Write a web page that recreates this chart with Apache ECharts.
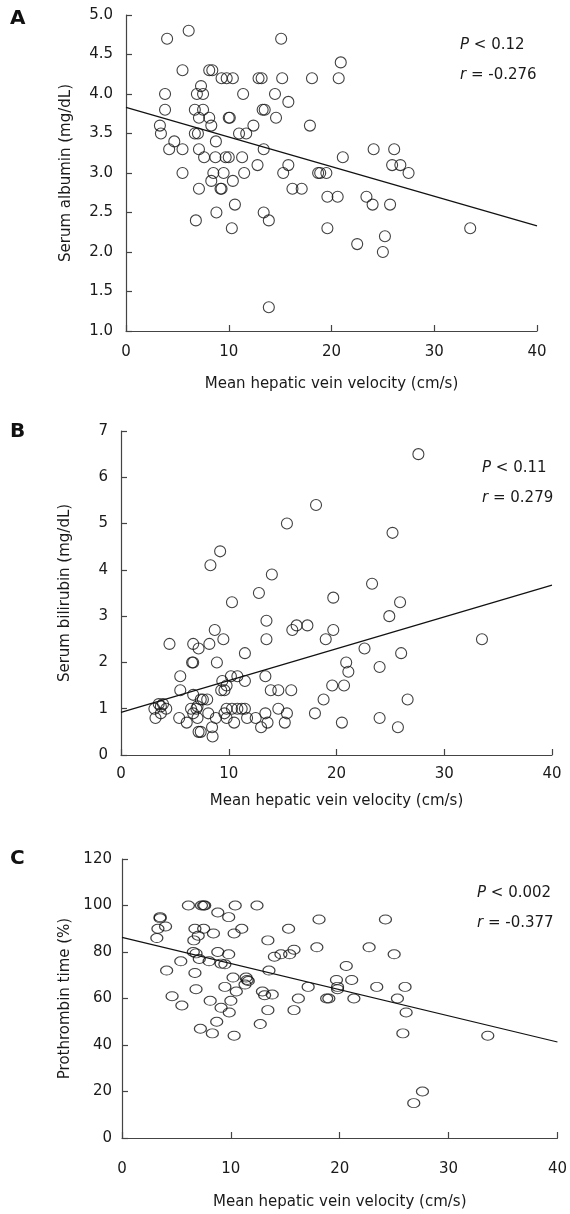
<!DOCTYPE html>
<html><head><meta charset="utf-8">
<script src="https://cdn.jsdelivr.net/npm/echarts@6/dist/echarts.min.js"></script>
<style>html,body{margin:0;padding:0;background:#fff}#c{width:570px;height:1214px}</style>
</head><body><div id="c"></div>
<script>
// Panel A: serum albumin vs mean hepatic vein velocity
const albuminPoints = [[4.0,4.7],[6.1,4.8],[5.5,4.3],[8.1,4.3],[8.4,4.3],[9.3,4.2],[9.8,4.2],[10.4,4.2],[12.9,4.2],[13.2,4.2],[15.2,4.2],[18.1,4.2],[15.1,4.7],[20.9,4.4],[20.7,4.2],[3.8,4.0],[7.3,4.1],[6.9,4.0],[7.5,4.0],[11.4,4.0],[14.5,4.0],[15.8,3.9],[3.8,3.8],[6.7,3.8],[7.5,3.8],[10.0,3.7],[10.1,3.7],[13.3,3.8],[13.5,3.8],[7.1,3.7],[8.1,3.7],[14.6,3.7],[8.3,3.6],[3.3,3.6],[3.4,3.5],[6.7,3.5],[7.0,3.5],[11.0,3.5],[11.7,3.5],[12.4,3.6],[17.9,3.6],[4.7,3.4],[8.75,3.4],[4.2,3.3],[5.5,3.3],[7.1,3.3],[13.4,3.3],[7.6,3.2],[8.7,3.2],[9.7,3.2],[10.0,3.2],[11.3,3.2],[5.5,3.0],[8.5,3.0],[9.5,3.0],[11.5,3.0],[12.8,3.1],[15.8,3.1],[15.3,3.0],[18.7,3.0],[18.9,3.0],[19.5,3.0],[7.1,2.8],[8.3,2.9],[9.2,2.8],[9.3,2.8],[10.4,2.9],[16.2,2.8],[17.1,2.8],[19.6,2.7],[10.6,2.6],[8.8,2.5],[6.8,2.4],[13.4,2.5],[13.9,2.4],[10.3,2.3],[19.6,2.3],[13.9,1.3],[21.1,3.2],[24.1,3.3],[26.1,3.3],[25.9,3.1],[26.7,3.1],[27.5,3.0],[20.6,2.7],[23.4,2.7],[24.0,2.6],[25.7,2.6],[33.5,2.3],[22.5,2.1],[25.2,2.2],[25.0,2.0]];
const albuminTrend = [[0,3.83],[40,2.33]];
// Panel B: serum bilirubin
const bilirubinPoints = [[9.2,4.4],[8.3,4.1],[14.0,3.9],[12.8,3.5],[10.3,3.3],[13.5,2.9],[13.5,2.5],[15.9,2.7],[16.3,2.8],[17.3,2.8],[8.7,2.7],[9.5,2.5],[4.5,2.4],[6.7,2.4],[8.2,2.4],[7.2,2.3],[11.5,2.2],[6.6,2.0],[6.7,2.0],[8.9,2.0],[5.5,1.7],[10.2,1.7],[10.8,1.7],[13.4,1.7],[9.4,1.6],[11.5,1.6],[9.8,1.5],[9.3,1.4],[9.6,1.4],[5.5,1.4],[13.9,1.4],[14.6,1.4],[15.8,1.4],[6.7,1.3],[7.4,1.2],[7.6,1.2],[8.0,1.2],[3.5,1.1],[3.9,1.1],[3.7,1.05],[3.1,1.0],[4.2,1.0],[3.2,0.8],[3.7,0.9],[6.5,1.0],[7.0,1.0],[6.7,0.9],[7.1,1.05],[5.4,0.8],[6.1,0.7],[7.1,0.8],[8.1,0.9],[8.8,0.8],[9.6,0.9],[9.8,1.0],[10.3,1.0],[10.8,1.0],[11.2,1.0],[11.5,1.0],[9.8,0.8],[10.5,0.7],[11.7,0.8],[12.5,0.8],[13.0,0.6],[13.4,0.9],[13.6,0.7],[14.6,1.0],[15.4,0.9],[15.2,0.7],[7.2,0.5],[7.4,0.5],[8.5,0.4],[8.45,0.6],[18.0,0.9],[18.8,1.2],[27.6,6.5],[18.1,5.4],[15.4,5.0],[25.2,4.8],[23.3,3.7],[19.7,3.4],[25.9,3.3],[24.9,3.0],[19.7,2.7],[19.0,2.5],[33.5,2.5],[22.6,2.3],[26.0,2.2],[20.9,2.0],[21.1,1.8],[24.0,1.9],[19.6,1.5],[20.7,1.5],[20.5,0.7],[24.0,0.8],[25.7,0.6],[26.6,1.2]];
const bilirubinTrend = [[0,0.92],[40,3.67]];
// Panel C: prothrombin time
const prothrombinPoints = [[6.1,100],[7.3,100],[7.5,100],[7.6,100],[10.4,100],[12.4,100],[8.8,97],[9.8,95],[3.5,95],[3.5,94.5],[3.3,90],[4.0,91],[3.2,86],[6.7,90],[7.5,90],[11.0,90],[15.3,90],[18.1,94],[8.4,88],[10.3,88],[7.0,87],[6.6,85],[13.4,85],[17.9,82],[6.55,80],[6.8,79.4],[8.8,80],[9.8,79],[15.8,81],[15.4,79],[14.6,79],[14.0,78],[7.1,77],[5.4,76],[8.0,76],[9.1,75],[9.45,74.7],[4.1,72],[13.5,72],[6.7,71],[10.2,69],[11.4,69],[11.5,68],[11.6,67.5],[11.3,66],[17.1,65],[9.45,65],[6.8,64],[10.5,63],[12.9,63],[13.1,61.4],[13.8,61.7],[4.6,61],[16.2,60],[18.8,60],[5.5,57],[8.1,59],[9.1,56],[10.0,59],[9.85,54],[8.7,50],[7.2,47],[8.3,45],[10.3,44],[12.7,49],[13.4,55],[15.8,55],[24.2,94],[22.7,82],[25.0,79],[20.6,74],[19.7,68],[21.1,68],[19.8,65],[19.8,64],[23.4,65],[26.0,65],[19.0,60],[21.3,60],[25.3,60],[26.1,54],[25.8,45],[33.6,44],[27.6,20],[26.8,15]];
const prothrombinTrend = [[0,86.3],[40,41.3]];

const xTitle = 'Mean hepatic vein velocity (cm/s)';
const yTitles = ['Serum albumin (mg/dL)', 'Serum bilirubin (mg/dL)', 'Prothrombin time (%)'];
const panelLetters = ['A', 'B', 'C'];
const statsP = ['0.12', '0.11', '0.002'];
const statsR = ['-0.276', '0.279', '-0.377'];
const yRanges = [[1, 5, 0.5], [0, 7, 1], [0, 120, 20]];
const xRange = [0, 40, 10];

const FONT = 'DejaVu Sans';
const TXT = '#1a1a1a';
const AX = '#444';

const grids = [
  {left: 126, right: 33, top: 15, height: 316},
  {left: 121, right: 18, top: 431, height: 324},
  {left: 122, right: 12, top: 859, height: 279}
];
const xLabelMargin = [14, 12, 24];
const xNameGap = [46, 39, 57];
const yNameGap = [52, 48, 48];
const statPos = [[460, 47], [482, 470], [477, 895]];
const letterPos = [[10, 20], [10, 433], [10, 860]];

const chart = echarts.init(document.getElementById('c'), null, {renderer: 'canvas'});

const xAxes = grids.map((g, i) => ({
  gridIndex: i, type: 'value', min: xRange[0], max: xRange[1], interval: xRange[2],
  name: xTitle, nameLocation: 'middle', nameGap: xNameGap[i],
  nameTextStyle: {fontFamily: FONT, fontSize: 15, color: TXT},
  axisLine: {show: true, onZero: false, lineStyle: {color: AX, width: 1.2}},
  axisTick: {show: true, inside: true, length: 6, lineStyle: {color: AX, width: 1.2}},
  axisLabel: {fontFamily: FONT, fontSize: 15, color: TXT, margin: xLabelMargin[i]},
  splitLine: {show: false}
}));
const yAxes = grids.map((g, i) => ({
  gridIndex: i, type: 'value', min: yRanges[i][0], max: yRanges[i][1], interval: yRanges[i][2],
  name: yTitles[i], nameLocation: 'middle', nameGap: yNameGap[i], nameRotate: 90,
  nameTextStyle: {fontFamily: FONT, fontSize: 15, color: TXT},
  axisLine: {show: true, onZero: false, lineStyle: {color: AX, width: 1.2}},
  axisTick: {show: true, inside: true, length: 6, lineStyle: {color: AX, width: 1.2}},
  axisLabel: {fontFamily: FONT, fontSize: 15, color: TXT, margin: i === 2 ? 10 : 13,
    formatter: i === 0 ? (v => v.toFixed(1)) : (v => String(v))},
  splitLine: {show: false}
}));

const pointSets = [albuminPoints, bilirubinPoints, prothrombinPoints];
const trendSets = [albuminTrend, bilirubinTrend, prothrombinTrend];
const symbols = ['circle', 'circle', 'path://M0,4.5a6,4.5 0 1,0 12,0a6,4.5 0 1,0 -12,0z'];
const symbolSizes = [11, 11, [12, 9]];

const series = [];
pointSets.forEach((pts, i) => {
  series.push({
    type: 'line', xAxisIndex: i, yAxisIndex: i, data: trendSets[i],
    showSymbol: false, symbol: 'none', lineStyle: {color: '#111', width: 1.2}, z: 1, silent: true
  });
  series.push({
    type: 'scatter', xAxisIndex: i, yAxisIndex: i, data: pts,
    symbol: symbols[i], symbolSize: symbolSizes[i],
    itemStyle: {color: 'rgba(255,255,255,0)', borderColor: '#111', borderWidth: 1.1}, z: 2
  });
});

const graphics = [];
panelLetters.forEach((L, i) => {
  graphics.push({type: 'text', left: letterPos[i][0], top: letterPos[i][1] - 11,
    style: {text: L, fontFamily: FONT, fontSize: 20, fontWeight: 'bold', fill: '#111'}});
  graphics.push({type: 'text', left: statPos[i][0], top: statPos[i][1] - 9,
    style: {text: '{i|P} < ' + statsP[i], fontFamily: FONT, fontSize: 15, fill: TXT,
      rich: {i: {fontStyle: 'italic', fontFamily: FONT, fontSize: 15, fill: TXT}}}});
  graphics.push({type: 'text', left: statPos[i][0], top: statPos[i][1] + 21,
    style: {text: '{i|r} = ' + statsR[i], fontFamily: FONT, fontSize: 15, fill: TXT,
      rich: {i: {fontStyle: 'italic', fontFamily: FONT, fontSize: 15, fill: TXT}}}});
});

chart.setOption({
  animation: false,
  backgroundColor: '#fff',
  grid: grids,
  xAxis: xAxes,
  yAxis: yAxes,
  series: series,
  graphic: graphics
});
</script></body></html>
